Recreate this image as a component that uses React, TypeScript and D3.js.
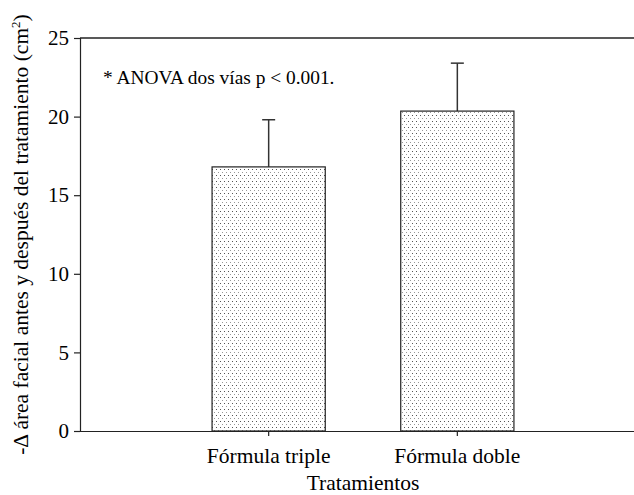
import { useEffect, useRef } from "react";
import * as d3 from "d3";

// data
const categories = ["Fórmula triple", "Fórmula doble"];
const means = [16.8, 20.35];
const errorTops = [19.8, 23.4];
const yTicks = [0, 5, 10, 15, 20, 25];

const yLabel = "-Δ área facial antes y después del tratamiento (cm";
const xLabel = "Tratamientos";
const note = "* ANOVA dos vías p < 0.001.";

export default function App() {
    const svgRef = useRef<SVGSVGElement>(null);

    useEffect(() => {
        const width = 634;
        const height = 495;
        const margin = { top: 38, right: -12, bottom: 64, left: 80 };
        const font = "'Liberation Serif', 'Times New Roman', serif";

        const svg = d3.select(svgRef.current)
            .attr("width", width)
            .attr("height", height)
            .style("background", "#ffffff");

        svg.selectAll("*").remove();

        const x = d3.scaleBand()
            .domain(categories)
            .range([margin.left, width - margin.right])
            .paddingInner(0.4)
            .paddingOuter(0.7);

        const y = d3.scaleLinear()
            .domain([0, 25])
            .range([height - margin.bottom, margin.top]);

        // stipple fill
        const defs = svg.append("defs");
        const pat = defs.append("pattern")
            .attr("id", "dots")
            .attr("patternUnits", "userSpaceOnUse")
            .attr("width", 4)
            .attr("height", 6);
        pat.append("rect").attr("width", 4).attr("height", 6).attr("fill", "#fff");
        pat.append("rect").attr("x", 0).attr("y", 1).attr("width", 1).attr("height", 1).attr("fill", "#555");
        pat.append("rect").attr("x", 2).attr("y", 4).attr("width", 1).attr("height", 1).attr("fill", "#999");

        // frame top line
        svg.append("line")
            .attr("x1", margin.left).attr("x2", width - margin.right)
            .attr("y1", y(25)).attr("y2", y(25))
            .attr("stroke", "#222").attr("stroke-width", 1.5);

        // error bars
        const eb = svg.append("g");
        categories.forEach((c, i) => {
            const cx = x(c)! + x.bandwidth() / 2;
            eb.append("line")
                .attr("x1", cx).attr("x2", cx)
                .attr("y1", y(means[i])).attr("y2", y(errorTops[i]))
                .attr("stroke", "#333").attr("stroke-width", 1.5);
            eb.append("line")
                .attr("x1", cx - 6.5).attr("x2", cx + 6.5)
                .attr("y1", y(errorTops[i])).attr("y2", y(errorTops[i]))
                .attr("stroke", "#333").attr("stroke-width", 1.5);
        });

        // bars
        svg.append("g")
            .selectAll("rect")
            .data(categories)
            .join("rect")
            .attr("x", d => x(d)!)
            .attr("y", (d, i) => y(means[i]))
            .attr("width", x.bandwidth())
            .attr("height", (d, i) => y(0) - y(means[i]))
            .attr("fill", "url(#dots)")
            .attr("stroke", "#222")
            .attr("stroke-width", 1.2);

        // y axis
        const yAxis = svg.append("g")
            .attr("transform", `translate(${margin.left}, 0)`)
            .call(d3.axisLeft(y).tickValues(yTicks).tickSize(6).tickPadding(5));
        yAxis.selectAll("path, line").attr("stroke", "#222").attr("stroke-width", 1.2);
        yAxis.selectAll("text").attr("font-family", font).attr("font-size", 21).attr("fill", "#000");

        // x axis
        const xAxis = svg.append("g")
            .attr("transform", `translate(0, ${y(0)})`)
            .call(d3.axisBottom(x).tickSize(5).tickSizeOuter(0).tickPadding(12));
        xAxis.select("path").attr("stroke", "#222").attr("stroke-width", 1.2);
        xAxis.selectAll("line").attr("stroke", "#222").attr("stroke-width", 1.2);
        xAxis.selectAll("text").attr("font-family", font).attr("font-size", 21.5).attr("fill", "#000");

        // axis titles
        const mid = (x(categories[0])! + x(categories[1])! + x.bandwidth()) / 2;
        svg.append("text")
            .attr("x", mid)
            .attr("y", 490)
            .attr("text-anchor", "middle")
            .attr("font-family", font)
            .attr("font-size", 21.5)
            .text(xLabel);

        const yt = svg.append("text")
            .attr("transform", `translate(28, ${(y(0) + y(25)) / 2}) rotate(-90)`)
            .attr("text-anchor", "middle")
            .attr("font-family", font)
            .attr("font-size", 21.5);
        yt.append("tspan").text(yLabel);
        yt.append("tspan").attr("font-size", 13).attr("dy", -8).text("2");
        yt.append("tspan").attr("dy", 8).text(")");

        // annotation
        svg.append("text")
            .attr("x", margin.left + 23)
            .attr("y", 84)
            .attr("font-family", font)
            .attr("font-size", 19.4)
            .text(note);
    }, []);

    return (
        <svg ref={svgRef} style={{ position: "absolute", left: 0, top: 0, display: "block" }}></svg>
    );
}
